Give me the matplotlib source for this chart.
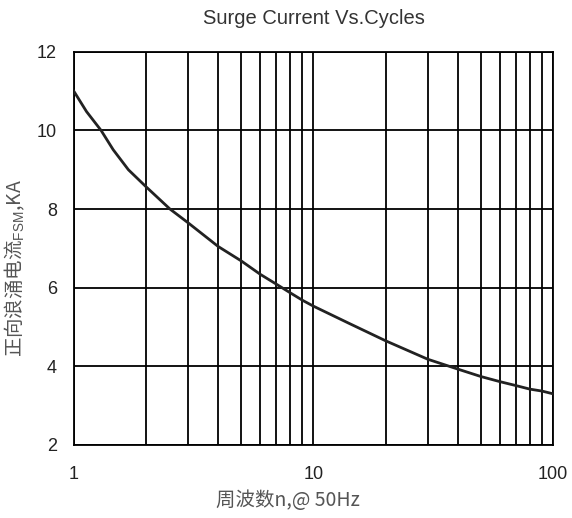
import matplotlib
matplotlib.use('Agg')
import matplotlib.pyplot as plt
from matplotlib.ticker import FixedLocator, NullFormatter

# cycles n @ 50Hz and surge current I_FSM (kA)
cycles = [1, 1.13, 1.3, 1.46, 1.69, 2, 2.52, 3, 4, 5, 6, 7, 8, 9, 10, 14, 20,
          30, 40, 50, 60, 70, 80, 90, 100]
surge_ka = [11.0, 10.48, 10.0, 9.51, 9.0, 8.57, 8.0, 7.65, 7.05, 6.68, 6.34, 6.09,
            5.87, 5.68, 5.53, 5.1, 4.65, 4.18, 3.93, 3.74, 3.61, 3.51, 3.42, 3.37, 3.30]

x_ticks = [1, 10, 100]
x_minor = [2, 3, 4, 5, 6, 7, 8, 9, 20, 30, 40, 50, 60, 70, 80, 90]
y_ticks = [2, 4, 6, 8, 10, 12]

plt.rcParams['font.family'] = ['Liberation Sans', 'Noto Sans CJK SC', 'DejaVu Sans']
plt.rcParams['mathtext.fontset'] = 'custom'
plt.rcParams['mathtext.rm'] = 'Liberation Sans'

fig = plt.figure(figsize=(5.72, 5.18), dpi=100)
ax = fig.add_axes([0.129, 0.141, 0.838, 0.759])

ax.set_xscale('log')
ax.set_xlim(1, 100)
ax.set_ylim(2, 12)

ax.xaxis.set_major_locator(FixedLocator(x_ticks))
ax.xaxis.set_minor_locator(FixedLocator(x_minor))
ax.xaxis.set_minor_formatter(NullFormatter())
ax.set_xticklabels([str(t) for t in x_ticks])
ax.set_yticks(y_ticks)

ax.grid(True, which='both', axis='x', color='black', linewidth=1.3)
ax.grid(True, which='major', axis='y', color='black', linewidth=1.3)

ax.plot(cycles, surge_ka, color='#222222', linewidth=2.0, zorder=3,
        solid_joinstyle='round')

for s in ax.spines.values():
    s.set_color('black')
    s.set_linewidth(1.3)

ax.tick_params(which='both', length=0)
ax.tick_params(axis='x', pad=15, labelsize=13, colors='#222222')
ax.tick_params(axis='y', pad=12, labelsize=13, colors='#222222')

ax.set_title('Surge Current Vs.Cycles', fontsize=14.5, color='#333333', pad=20)

ax.set_xlabel('周波数n,@ 50Hz', fontsize=14, color='#555555',
              family=['Noto Sans CJK SC', 'Liberation Sans'])
ax.xaxis.set_label_coords(0.447, -0.115)

ax.set_ylabel('正向浪涌电流$_{\\mathrm{FSM}}$,KA', fontsize=14, color='#555555',
              family=['Noto Sans CJK SC', 'Liberation Sans'])
ax.yaxis.set_label_coords(-0.098, 0.45)

fig.savefig('out.png', dpi=100)
